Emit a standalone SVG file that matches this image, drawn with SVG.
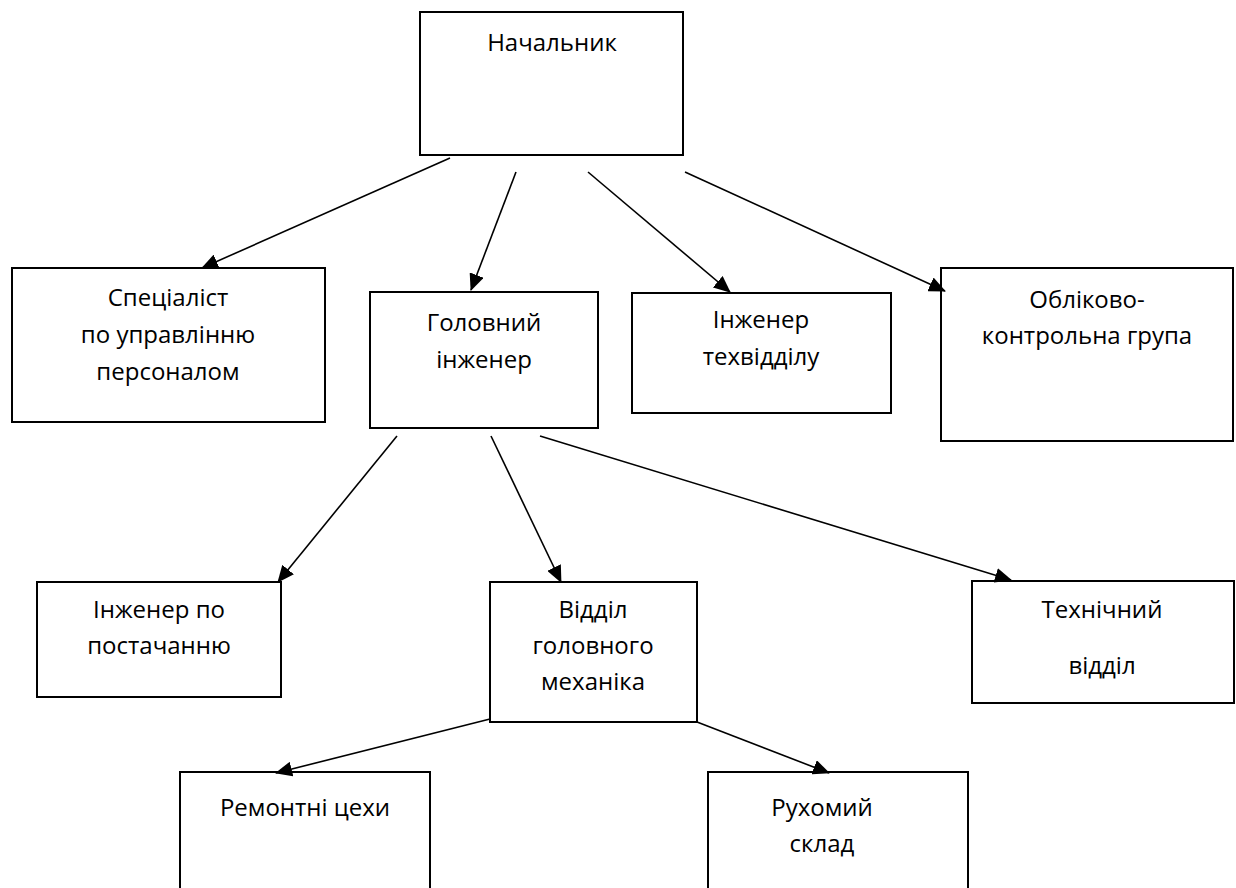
<svg xmlns="http://www.w3.org/2000/svg" width="1236" height="888" viewBox="0 0 1236 888">
<style>
.box{fill:#fff;stroke:#000;stroke-width:2}
.t{font-family:"Open Sans","Noto Sans","Liberation Sans",sans-serif;font-size:24px;fill:#000;text-anchor:middle}
.c{stroke:#000;stroke-width:1.6;fill:none;marker-end:url(#ah)}
</style>
<defs>
<marker id="ah" viewBox="0 0 17 15" refX="16" refY="7.5" markerWidth="17" markerHeight="15" markerUnits="userSpaceOnUse" orient="auto">
<path d="M0,0 L17,7.5 L0,15 Z" fill="#000"/>
</marker>
</defs>
<rect width="1236" height="888" fill="#fff"/>
<g id="n-nachalnyk">
<rect class="box" x="420" y="12" width="263" height="143"/>
<text class="t" x="552" y="51">Начальник</text>
</g>
<g id="n-specialist">
<rect class="box" x="12" y="268" width="313" height="154"/>
<text class="t" x="168" y="306">Спеціаліст</text>
<text class="t" x="168" y="343">по управлінню</text>
<text class="t" x="168" y="380">персоналом</text>
</g>
<g id="n-golovnyi">
<rect class="box" x="370" y="292" width="228" height="136"/>
<text class="t" x="484" y="331">Головний</text>
<text class="t" x="484" y="368">інженер</text>
</g>
<g id="n-tekhviddil">
<rect class="box" x="632" y="293" width="259" height="120"/>
<text class="t" x="761" y="328">Інженер</text>
<text class="t" x="761" y="365">техвідділу</text>
</g>
<g id="n-oblik">
<rect class="box" x="941" y="268" width="292" height="173"/>
<text class="t" x="1087" y="308">Обліково-</text>
<text class="t" x="1087" y="344">контрольна група</text>
</g>
<g id="n-postach">
<rect class="box" x="37" y="582" width="244" height="115"/>
<text class="t" x="159" y="618">Інженер по</text>
<text class="t" x="159" y="654">постачанню</text>
</g>
<g id="n-mekhanik">
<rect class="box" x="490" y="582" width="207" height="140"/>
<text class="t" x="593" y="618">Відділ</text>
<text class="t" x="593" y="654">головного</text>
<text class="t" x="593" y="690">механіка</text>
</g>
<g id="n-tekhnichnyi">
<rect class="box" x="972" y="581" width="262" height="122"/>
<text class="t" x="1102" y="618">Технічний</text>
<text class="t" x="1102" y="674">відділ</text>
</g>
<g id="n-remont">
<rect class="box" x="180" y="772" width="250" height="130"/>
<text class="t" x="305" y="816">Ремонтні цехи</text>
</g>
<g id="n-rukhomyi">
<rect class="box" x="708" y="772" width="260" height="130"/>
<text class="t" x="822" y="816">Рухомий</text>
<text class="t" x="822" y="852">склад</text>
</g>
<g id="connectors">
<line class="c" x1="450" y1="158" x2="202" y2="268"/>
<line class="c" x1="516" y1="172" x2="471" y2="290"/>
<line class="c" x1="588" y1="172" x2="730" y2="292"/>
<line class="c" x1="685" y1="172" x2="945" y2="291"/>
<line class="c" x1="397" y1="436" x2="278" y2="582"/>
<line class="c" x1="491" y1="436" x2="561" y2="582"/>
<line class="c" x1="540" y1="436" x2="1011" y2="580"/>
<line class="c" x1="490" y1="719" x2="276" y2="773"/>
<line class="c" x1="697" y1="722" x2="829" y2="773"/>
</g>
</svg>
